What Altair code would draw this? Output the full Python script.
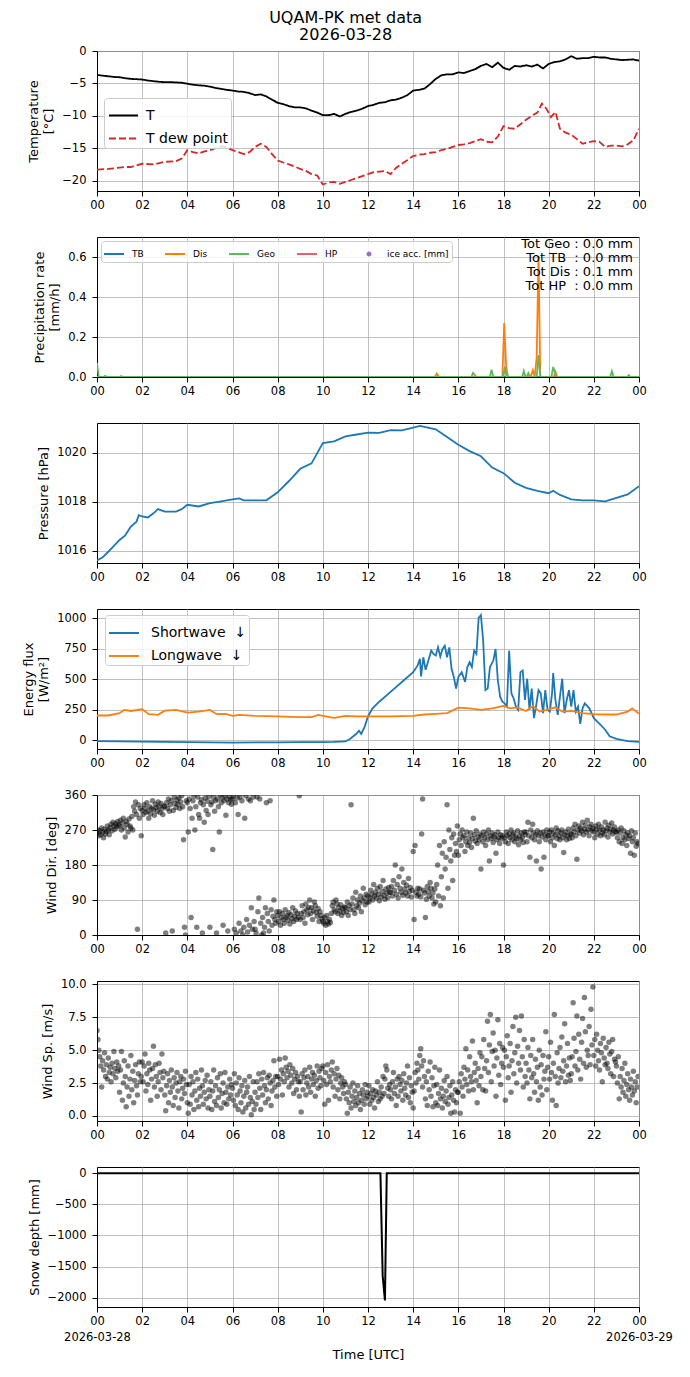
import altair as alt
import pandas as pd

FONT = "DejaVu Sans"
W, H = 542, 140
X_TICKS = list(range(0, 25, 2))
DATES = ["2026-03-28", "2026-03-29"]
TITLE = ["UQAM-PK met data", "2026-03-28"]

# ---------------- Temperature (every 15 min) ----------------
temp_T = [-3.7, -3.8, -3.9, -4.0, -4.05, -4.2, -4.3, -4.35, -4.4, -4.55, -4.65, -4.75,
          -4.8, -4.8, -4.85, -4.9, -5.05, -5.2, -5.3, -5.35, -5.5, -5.7, -5.85, -6.0,
          -6.1, -6.25, -6.3, -6.5, -6.8, -6.7, -7.0, -7.5, -8.0, -8.2, -8.5, -8.7,
          -8.7, -8.85, -9.2, -9.5, -9.9, -9.9, -9.7, -10.1, -9.7, -9.4, -9.2, -8.9,
          -8.5, -8.3, -8.0, -7.9, -7.6, -7.5, -7.2, -6.8, -6.1, -6.0, -5.8, -5.1,
          -4.3, -3.75, -3.6, -3.6, -3.3, -3.4, -3.1, -2.8, -2.3, -2.0, -2.5, -1.8,
          -2.6, -2.9, -2.3, -2.4, -2.2, -2.4, -2.1, -2.7, -2.0, -1.7, -1.6, -1.3,
          -0.8, -1.2, -1.1, -1.1, -0.9, -1.0, -1.0, -1.2, -1.3, -1.4, -1.35, -1.3, -1.5]
temp_h = [i * 0.25 for i in range(len(temp_T))]

dew_h = [0, 0.5, 1.0, 1.25, 1.5, 2.0, 2.5, 3.0, 3.5, 3.75, 4.0, 4.25, 4.5, 4.75, 5.0, 5.25,
         5.5, 5.75, 6.0, 6.25, 6.5, 6.75, 7.0, 7.25, 7.5, 7.75, 8.0, 8.25, 8.5, 8.75, 9.0,
         9.25, 9.5, 9.75, 10.0, 10.25, 10.5, 10.75, 11.0, 11.25, 11.5, 11.75, 12.0, 12.25,
         12.5, 12.75, 13.0, 13.25, 13.5, 13.75, 14.0, 14.25, 14.5, 14.75, 15.0, 15.25, 15.5,
         15.75, 16.0, 16.25, 16.5, 16.75, 17.0, 17.25, 17.5, 17.75, 18.0, 18.25, 18.5, 18.75,
         19.0, 19.25, 19.5, 19.7, 19.9, 20.1, 20.3, 20.5, 20.75, 21.0, 21.25, 21.5, 21.75,
         22.0, 22.25, 22.5, 22.75, 23.0, 23.25, 23.5, 23.75, 24.0]
dew_Td = [-18.3, -18.2, -18.0, -17.9, -17.9, -17.4, -17.5, -17.1, -17.0, -16.6, -15.3, -15.6,
          -15.8, -15.5, -15.3, -15.0, -14.7, -14.9, -15.3, -15.6, -15.9, -15.6, -14.8, -14.3,
          -14.8, -15.9, -16.9, -17.2, -17.5, -17.8, -18.2, -18.5, -19.0, -19.2, -20.6, -20.3,
          -20.2, -20.5, -20.2, -19.9, -19.6, -19.3, -19.0, -18.7, -18.6, -18.5, -19.0, -18.0,
          -17.4, -16.8, -16.2, -16.0, -15.9, -15.7, -15.6, -15.3, -15.1, -14.8, -14.5, -14.4,
          -14.2, -13.9, -13.6, -14.0, -14.1, -13.2, -11.6, -11.9, -12.0, -11.3, -10.6, -10.0,
          -9.5, -8.1, -8.9, -10.2, -9.4, -12.0, -12.6, -12.9, -13.6, -14.3, -14.1, -13.9,
          -14.0, -14.8, -14.6, -14.6, -14.7, -14.4, -13.8, -12.0]
temp_names = ["T", "T dew point"]
temp_colors = ["black", "#d62728"]

# ---------------- Precipitation ----------------
prec_names = ["TB", "Dis", "Geo", "HP", "ice acc. [mm]"]
prec_colors = ["#1f77b4", "#ff7f0e", "#5cb85c", "#e0646c", "#9a6fc4"]
tb_h = [0, 24]
tb_v = [0.0, 0.0]
dis_h = [0, 14.95, 15.05, 15.13, 17.95, 18.03, 18.12, 18.2, 19.2, 19.3, 19.38, 19.47,
         19.55, 19.63, 20.22, 20.3, 20.38, 24]
dis_v = [0.0, 0.0, 0.017, 0.0, 0.0, 0.27, 0.05, 0.0, 0.0, 0.034, 0.0, 0.1,
         0.605, 0.0, 0.0, 0.026, 0.0, 0.0]
geo_h = [0, 0.08, 0.3, 0.36, 0.44, 1.0, 1.07, 1.15, 16.58, 16.65, 16.73, 16.8, 17.4, 17.47,
         17.55, 17.98, 18.06, 18.14, 18.83, 18.9, 18.98, 19.03, 19.1, 19.18, 19.47, 19.55,
         19.63, 20.12, 20.2, 20.28, 20.36, 22.72, 22.8, 22.88, 23.47, 23.55, 23.63, 24]
geo_v = [0.07, 0.0, 0.0, 0.006, 0.0, 0.0, 0.005, 0.0, 0.0, 0.02, 0.01, 0.0, 0.0, 0.037,
         0.0, 0.0, 0.05, 0.0, 0.0, 0.03, 0.0, 0.0, 0.02, 0.0, 0.0, 0.11,
         0.0, 0.0, 0.05, 0.02, 0.0, 0.0, 0.03, 0.0, 0.0, 0.01, 0.0, 0.0]
prec_totals = ["Tot Geo : 0.0 mm", "Tot TB\u00a0\u00a0: 0.0 mm",
               "Tot Dis : 0.1 mm", "Tot HP\u00a0\u00a0: 0.0 mm"]

# ---------------- Pressure ----------------
p_h = [0, 0.25, 0.5, 0.75, 1.0, 1.25, 1.5, 1.75, 1.85, 2.0, 2.25, 2.5, 2.7, 3.0, 3.5, 3.75,
       4.0, 4.5, 5.0, 5.5, 6.0, 6.3, 6.5, 7.0, 7.5, 8.0, 8.5, 9.0, 9.5, 10.0, 10.5, 11.0,
       11.5, 12.0, 12.5, 13.0, 13.5, 14.0, 14.3, 14.5, 15.0, 15.5, 16.0, 16.5, 17.0, 17.5,
       18.0, 18.5, 19.0, 19.5, 20.0, 20.2, 20.5, 21.0, 21.5, 22.0, 22.5, 23.0, 23.5, 24.0]
p_v = [1015.6, 1015.73, 1015.96, 1016.2, 1016.44, 1016.63, 1016.99, 1017.19, 1017.45, 1017.4,
       1017.36, 1017.53, 1017.7, 1017.6, 1017.6, 1017.7, 1017.88, 1017.81, 1017.95, 1018.02,
       1018.1, 1018.14, 1018.06, 1018.06, 1018.06, 1018.39, 1018.85, 1019.35, 1019.57, 1020.4,
       1020.47, 1020.67, 1020.75, 1020.83, 1020.82, 1020.93, 1020.92, 1021.03, 1021.1, 1021.06,
       1020.96, 1020.65, 1020.33, 1020.07, 1019.86, 1019.4, 1019.17, 1018.78, 1018.57, 1018.45,
       1018.35, 1018.45, 1018.28, 1018.1, 1018.06, 1018.06, 1018.02, 1018.16, 1018.3, 1018.64]

# ---------------- Radiation ----------------
sw_h = [0, 1, 2, 3, 4, 5, 6, 7, 8, 9, 10, 10.5, 11.0, 11.2, 11.35, 11.5, 11.6, 11.7, 11.85,
        12.0, 12.2, 12.5, 13.0, 13.5, 14.0, 14.2, 14.3, 14.35, 14.45, 14.55, 14.65, 14.8,
        14.9, 15.0, 15.1, 15.2, 15.3, 15.4, 15.5, 15.6, 15.7, 15.8, 15.9, 16.0, 16.15, 16.3,
        16.4, 16.5, 16.6, 16.7, 16.8, 16.9, 17.0, 17.1, 17.2, 17.3, 17.4, 17.55, 17.65, 17.75,
        17.85, 17.95, 18.05, 18.15, 18.25, 18.35, 18.45, 18.55, 18.65, 18.75, 18.85, 18.95,
        19.05, 19.15, 19.25, 19.35, 19.45, 19.55, 19.65, 19.75, 19.85, 19.95, 20.05, 20.15,
        20.2, 20.3, 20.4, 20.5, 20.6, 20.7, 20.8, 20.9, 21.0, 21.1, 21.2, 21.3, 21.4, 21.5,
        21.6, 21.8, 22.0, 22.3, 22.5, 22.7, 23.0, 23.5, 24]
sw_v = [-8, -10, -12, -14, -16, -18, -19, -18, -17, -16, -15, -14, -10, 10, 32, 55, 78, 52,
        110, 195, 262, 316, 397, 478, 559, 614, 668, 524, 681, 578, 640, 735, 708, 695, 762,
        686, 749, 776, 681, 762, 586, 519, 424, 519, 559, 478, 600, 640, 600, 735, 708, 1005,
        1027, 816, 411, 424, 600, 654, 749, 492, 357, 316, 303, 276, 735, 384, 343, 276, 249,
        559, 573, 330, 505, 249, 424, 181, 289, 411, 384, 222, 411, 249, 235, 384, 551, 330,
        208, 357, 505, 222, 330, 411, 276, 411, 235, 276, 135, 262, 303, 262, 181, 127, 86,
        32, 11, -8, -14]
lw_h = [0, 0.5, 1.0, 1.2, 1.5, 2.0, 2.3, 2.7, 3.0, 3.5, 4.0, 4.5, 5.0, 5.3, 5.7, 6.0, 6.3,
        7.0, 8.0, 9.0, 9.5, 9.8, 10.0, 10.5, 11.0, 11.5, 12.0, 13.0, 14.0, 14.5, 15.0, 15.5,
        16.0, 16.5, 17.0, 17.5, 18.0, 18.3, 18.6, 19.0, 19.3, 19.6, 20.0, 20.3, 20.6, 21.0,
        21.5, 22.0, 22.5, 23.0, 23.5, 23.7, 24]
lw_v = [203, 203, 222, 249, 240, 254, 214, 208, 243, 249, 227, 235, 249, 214, 216, 200, 208,
        200, 195, 189, 189, 208, 200, 184, 200, 195, 195, 195, 200, 211, 216, 222, 268, 262,
        249, 262, 281, 262, 270, 240, 281, 235, 254, 270, 235, 240, 222, 214, 211, 211, 235,
        262, 216]
rad_names = ["Shortwave\u00a0\u00a0\u2193", "Longwave\u00a0\u00a0\u2193"]
rad_colors = ["#1f77b4", "#ff7f0e"]

# ---------------- Wind (one value every 2.5 min) ----------------
wdir = [
    262, 270, 255, 268, 258, 275, 264, 250, 272, 260, 266, 280, 270, 258, 276, 285, 268, 290, 280, 272, 286, 278, 292, 283,
    280, 295, 270, 288, 300, 276, 252, 292, 285, 265, 298, 280, 275, 305, 270, 330, 318, 342, 310, 15, 335, 300, 325, 255,
    320, 310, 335, 326, 315, 340, 318, 300, 330, 312, 325, 345, 322, 308, 336, 328, 318, 342, 330, 315, 338, 324, 310, 332,
    330, 5, 340, 325, 350, 318, 335, 345, 10, 320, 355, 338, 328, 348, 336, 352, 325, 342, 358, 330, 245, 20, 0, 345,
    340, 265, 350, 325, 45, 300, 345, 358, 270, 330, 20, 355, 310, 300, 340, 348, 5, 335, 290, 352, 320, 344, 310, 356,
    20, 335, 342, 220, 355, 318, 345, 5, 350, 330, 265, 360, 340, 352, 25, 345, 358, 308, 350, 10, 340, 355, 348, 336,
    350, 358, 15, 340, 5, 352, 310, 30, 355, 10, 345, 0, 20, 300, 358, 40, 8, 350, 25, 345, 70, 15, 355, 35,
    15, 5, 355, 60, 95, 350, 30, 0, 45, 5, 20, 70, 340, 55, 35, 10, 345, 65, 25, 48, 90, 40, 30, 60,
    50, 35, 60, 25, 45, 55, 40, 30, 65, 45, 50, 38, 58, 28, 52, 42, 70, 35, 48, 62, 40, 55, 45, 358,
    40, 55, 75, 45, 60, 30, 80, 65, 52, 70, 90, 55, 70, 40, 62, 85, 75, 58, 48, 68, 35, 60, 50, 42,
    35, 30, 45, 25, 50, 35, 28, 40, 32, 55, 75, 85, 65, 60, 90, 80, 55, 70, 62, 78, 50, 68, 58, 72,
    70, 60, 85, 50, 75, 65, 335, 80, 95, 65, 55, 110, 75, 90, 70, 82, 100, 60, 88, 120, 95, 78, 105, 85,
    100, 85, 95, 115, 105, 90, 130, 100, 110, 95, 120, 105, 88, 125, 98, 112, 140, 102, 92, 118, 108, 96, 122, 110,
    110, 125, 100, 140, 115, 180, 105, 130, 95, 150, 120, 110, 170, 102, 135, 118, 108, 128, 100, 145, 112, 122, 98, 115,
    215, 40, 230, 110, 100, 120, 105, 118, 98, 260, 350, 115, 108, 45, 92, 125, 112, 100, 135, 120, 95, 108, 80, 118,
    85, 130, 180, 100, 230, 75, 150, 210, 95, 240, 170, 200, 335, 120, 270, 220, 190, 250, 140, 260, 205, 235, 215, 280,
    205, 245, 260, 230, 270, 250, 255, 215, 240, 265, 230, 250, 238, 262, 225, 248, 300, 258, 242, 268, 235, 252, 245, 260,
    170, 255, 240, 265, 250, 230, 260, 245, 270, 190, 255, 248, 262, 238, 252, 258, 210, 245, 265, 250, 235, 258, 248, 255,
    180, 250, 240, 265, 255, 235, 260, 250, 270, 245, 258, 262, 240, 252, 248, 268, 232, 255, 245, 262, 250, 238, 265, 258,
    265, 240, 290, 255, 200, 270, 250, 285, 262, 245, 258, 190, 268, 255, 240, 262, 170, 252, 265, 200, 258, 245, 270, 255,
    255, 265, 240, 270, 250, 262, 230, 258, 275, 248, 268, 255, 245, 262, 270, 250, 212, 258, 265, 245, 255, 272, 248, 260,
    260, 250, 275, 265, 285, 255, 195, 270, 280, 262, 275, 268, 290, 258, 272, 282, 265, 295, 270, 255, 278, 285, 268, 274,
    265, 250, 280, 272, 260, 285, 270, 255, 278, 262, 270, 258, 290, 268, 275, 252, 282, 265, 272, 288, 260, 270, 278, 265,
    265, 250, 270, 240, 262, 275, 235, 250, 268, 245, 258, 230, 262, 248, 255, 210, 268, 240, 250, 205, 262, 228, 240, 235,
]
wspd = [
    6.5, 5.8, 5.0, 4.5, 3.8, 2.2, 4.2, 3.5, 4.8, 3.0, 3.9, 2.8, 4.4, 3.3, 3.7, 2.6, 4.0, 3.2, 4.9, 3.6, 2.9, 4.1, 3.4, 3.8,
    1.8, 3.5, 4.9, 1.2, 2.5, 4.2, 3.0, 0.7, 2.2, 3.8, 1.5, 2.8, 4.6, 2.0, 3.4, 1.0, 2.7, 3.9, 2.3, 1.6, 3.2, 4.1, 2.6, 3.0,
    4.1, 2.6, 3.8, 4.7, 1.9, 3.2, 2.4, 4.0, 3.5, 1.2, 2.8, 3.6, 5.3, 2.2, 3.9, 3.0, 1.5, 2.6, 4.0, 3.3, 2.0, 4.7, 2.9, 3.4,
    1.6, 0.4, 2.3, 3.2, 1.0, 2.7, 1.8, 3.5, 2.2, 0.8, 2.9, 1.4, 2.5, 3.3, 1.9, 0.6, 2.6, 3.0, 1.3, 2.1, 2.8, 1.7, 3.4, 2.4,
    1.0, 0.2, 2.4, 0.9, 3.0, 1.6, 2.6, 0.5, 1.9, 3.3, 1.2, 2.8, 0.7, 2.1, 1.5, 3.5, 2.3, 0.9, 1.8, 2.7, 1.3, 3.1, 0.6, 2.0,
    1.5, 2.6, 0.5, 1.9, 3.5, 1.1, 2.3, 0.8, 2.9, 1.4, 2.0, 3.2, 0.6, 1.7, 2.5, 1.0, 3.3, 1.8, 0.9, 2.2, 1.3, 2.8, 1.6, 2.4,
    2.1, 1.2, 3.2, 0.8, 2.5, 1.6, 0.5, 2.9, 1.9, 1.0, 2.3, 0.3, 1.5, 2.7, 0.6, 1.8, 2.2, 0.9, 3.0, 1.4, 0.1, 1.1, 2.6, 0.5,
    1.8, 0.9, 2.6, 1.4, 3.2, 2.1, 0.5, 2.8, 1.6, 3.3, 2.3, 1.0, 2.0, 2.9, 1.3, 3.1, 2.5, 0.8, 1.9, 2.7, 4.2, 2.2, 3.0, 1.5,
    3.0, 2.4, 4.3, 2.8, 3.5, 1.6, 3.2, 2.6, 4.4, 3.7, 2.9, 3.4, 2.2, 3.9, 3.1, 2.5, 3.6, 1.7, 2.8, 3.3, 2.0, 3.0, 2.6, 1.5,
    2.6, 0.3, 3.2, 2.0, 2.9, 3.5, 1.6, 2.5, 3.0, 2.2, 3.7, 1.8, 2.8, 3.3, 2.4, 3.1, 1.5, 2.7, 3.8, 2.1, 3.4, 2.9, 2.3, 3.6,
    3.8, 2.7, 0.9, 3.3, 2.4, 3.9, 1.2, 3.0, 2.6, 3.5, 4.1, 2.2, 3.2, 1.5, 2.8, 3.6, 2.0, 3.1, 1.3, 2.5, 2.9, 2.2, 1.7, 2.6,
    2.4, 1.3, 0.2, 1.8, 1.0, 2.2, 0.6, 1.5, 2.5, 1.1, 1.9, 0.8, 1.4, 2.3, 1.0, 1.7, 0.5, 1.2, 2.0, 1.6, 0.9, 2.4, 1.3, 1.8,
    1.5, 2.3, 0.9, 1.7, 1.2, 2.0, 1.4, 0.6, 1.9, 1.6, 2.6, 1.1, 1.8, 1.3, 2.2, 1.5, 3.0, 1.7, 2.8, 3.8, 3.5, 2.1, 1.5, 2.4,
    2.0, 1.3, 2.6, 3.3, 1.7, 2.2, 0.8, 2.8, 1.5, 3.0, 2.4, 1.9, 2.7, 1.2, 3.2, 2.1, 1.6, 2.5, 3.8, 1.4, 2.9, 1.0, 2.3, 1.8,
    0.6, 1.9, 3.3, 2.5, 4.0, 3.5, 2.8, 4.6, 5.1, 3.8, 2.2, 4.2, 3.0, 1.3, 2.6, 0.8, 3.4, 2.0, 4.1, 1.5, 2.9, 0.7, 2.3, 3.7,
    1.0, 2.4, 0.8, 1.7, 3.5, 1.3, 2.1, 0.6, 1.5, 2.7, 1.1, 1.9, 3.0, 0.9, 1.4, 2.3, 0.2, 1.6, 2.6, 1.2, 0.3, 2.0, 1.0, 1.8,
    1.8, 2.6, 0.2, 3.2, 2.2, 1.5, 3.7, 2.8, 5.1, 2.4, 3.5, 1.9, 4.5, 3.0, 2.6, 5.7, 2.0, 3.3, 4.0, 2.7, 1.0, 3.6, 2.3, 4.8,
    3.0, 4.5, 2.0, 5.8, 3.6, 1.9, 4.2, 7.2, 3.3, 5.4, 7.7, 2.6, 4.9, 6.3, 3.8, 5.0, 1.5, 4.4, 7.3, 3.1, 5.5, 2.4, 4.0, 5.2,
    3.7, 5.0, 1.2, 4.5, 6.1, 2.9, 3.8, 5.5, 1.8, 4.2, 6.8, 3.2, 4.8, 7.5, 2.5, 5.3, 4.0, 6.5, 3.5, 7.6, 4.5, 2.2, 5.8, 3.0,
    4.0, 2.5, 5.2, 3.5, 1.3, 4.6, 2.9, 5.8, 3.2, 1.8, 4.3, 2.6, 3.7, 1.2, 5.0, 2.2, 3.9, 1.6, 4.6, 2.8, 3.4, 6.4, 2.0, 3.7,
    4.5, 2.8, 5.6, 3.3, 1.2, 4.0, 7.7, 3.0, 0.8, 4.8, 2.5, 3.6, 5.2, 2.9, 6.0, 3.4, 4.2, 7.0, 2.6, 3.8, 5.5, 3.1, 4.4, 2.7,
    3.2, 4.5, 8.6, 5.9, 3.8, 4.9, 7.6, 3.5, 6.2, 4.3, 2.8, 5.6, 7.4, 4.0, 9.0, 6.4, 3.7, 5.0, 4.6, 6.8, 3.9, 8.1, 5.4, 9.8,
    4.6, 5.8, 3.8, 6.2, 5.0, 4.2, 3.5, 5.5, 4.8, 2.6, 5.9, 4.4, 3.9, 5.2, 4.0, 3.6, 5.6, 4.7, 3.2, 4.9, 5.8, 3.0, 4.3, 4.1,
    3.8, 2.5, 4.5, 1.3, 3.0, 2.2, 3.6, 1.8, 2.7, 4.0, 1.5, 2.4, 3.2, 2.0, 1.2, 2.8, 2.2, 1.6, 3.4, 1.9, 2.6, 1.0, 2.2, 3.0,
]

# ---------------- Snow depth ----------------
snow_h = [0, 12.55, 12.65, 12.75, 12.83, 24]
snow_v = [0, 0, -1650, -2046, 0, 0]


def frame(h, v, name=None):
    n = min(len(h), len(v))
    d = pd.DataFrame({"h": h[:n], "v": v[:n]})
    if name is not None:
        d["series"] = name
    return d


def xenc(bottom=False):
    two = "(datum.value % 24 < 10 ? '0' : '') + (datum.value % 24)"
    if bottom:
        expr = ("[" + two + ", datum.value == 0 ? '" + DATES[0] + "' : (datum.value == 24 ? '"
                + DATES[1] + "' : '')]")
        ax = alt.Axis(values=X_TICKS, labelExpr=expr, title="Time [UTC]", labelLineHeight=16,
                      titlePadding=6, labelOverlap=False, labelFlush=False)
    else:
        ax = alt.Axis(values=X_TICKS, labelExpr=two, title=None, labelOverlap=False, labelFlush=False)
    return alt.X("h:Q", scale=alt.Scale(domain=[0, 24], nice=False, zero=False), axis=ax)


def yenc(domain, values, title, fmt="d"):
    return alt.Y("v:Q", scale=alt.Scale(domain=domain, nice=False, zero=False),
                 axis=alt.Axis(values=values, title=title, format=fmt, labelOverlap=False))


BOX = dict(fillColor="rgba(255,255,255,0.8)", strokeColor="#cccccc", cornerRadius=3)

# Panel 1: temperature
temp_df = pd.concat([frame(temp_h, temp_T, "T"), frame(dew_h, dew_Td, "T dew point")])
tleg = alt.Legend(title=None, orient="none", legendX=7, legendY=47, symbolType="stroke",
                  symbolSize=841, symbolStrokeWidth=2, labelFontSize=14, labelOffset=7,
                  symbolOffset=2, rowPadding=-1, padding=2, **BOX)
p1 = alt.Chart(temp_df).mark_line(strokeWidth=1.8, clip=True).encode(
    x=xenc(),
    y=yenc([-21.6, 0], [-20, -15, -10, -5, 0], ["Temperature", "[°C]"]),
    color=alt.Color("series:N", scale=alt.Scale(domain=temp_names, range=temp_colors), legend=tleg),
    strokeDash=alt.StrokeDash("series:N", scale=alt.Scale(domain=temp_names, range=[[1, 0], [7, 3]]),
                              legend=tleg),
).properties(width=W, height=H)

# Panel 2: precipitation
prec_df = pd.concat([frame(tb_h, tb_v, "TB"), frame(dis_h, dis_v, "Dis"), frame(geo_h, geo_v, "Geo")])
LINE_PATH = "M-1,-0.1L1,-0.1L1,0.1L-1,0.1Z"
DOT_PATH = "M-0.25,0A0.25,0.25,0,1,0,0.25,0A0.25,0.25,0,1,0,-0.25,0Z"
pleg = alt.Legend(title=None, orient="none", legendX=4, legendY=4, direction="horizontal",
                  symbolSize=400, symbolStrokeWidth=0, labelFontSize=9, labelOffset=8,
                  columnPadding=21, padding=3, **BOX)
prec_lines = alt.Chart(prec_df).mark_line(strokeWidth=1.8, clip=True).encode(
    x=xenc(),
    y=yenc([0, 0.70], [0, 0.2, 0.4, 0.6], ["Precipitation rate", "[mm/h]"], ".1f"),
    stroke=alt.Stroke("series:N", scale=alt.Scale(domain=prec_names[:4], range=prec_colors[:4]),
                      legend=None),
)
legend_df = pd.DataFrame({"series": prec_names, "h": [0.0] * 5, "v": [-1.0] * 5})
prec_keys = alt.Chart(legend_df).mark_point(filled=True, opacity=1, clip=True).encode(
    x=xenc(), y="v:Q",
    fill=alt.Fill("series:N", scale=alt.Scale(domain=prec_names, range=prec_colors), legend=pleg),
    shape=alt.Shape("series:N", scale=alt.Scale(domain=prec_names, range=[LINE_PATH] * 4 + [DOT_PATH]),
                    legend=pleg),
)
prec_text = alt.Chart(pd.DataFrame({"k": [0]})).mark_text(
    text=prec_totals, align="right", baseline="top", fontSize=13, lineHeight=14, font=FONT
).encode(x=alt.value(W - 6), y=alt.value(1))
p2 = alt.layer(prec_lines, prec_keys, prec_text).properties(width=W, height=H)

# Panel 3: pressure
p3 = alt.Chart(frame(p_h, p_v)).mark_line(strokeWidth=1.8, color="#1f77b4", clip=True).encode(
    x=xenc(), y=yenc([1015.5, 1021.22], [1016, 1018, 1020], "Pressure [hPa]")
).properties(width=W, height=H)

# Panel 4: radiation
rad_df = pd.concat([frame(sw_h, sw_v, rad_names[0]), frame(lw_h, lw_v, rad_names[1])])
rleg = alt.Legend(title=None, orient="none", legendX=8, legendY=6, symbolType="stroke",
                  symbolSize=900, symbolStrokeWidth=2, labelFontSize=14, labelOffset=11,
                  symbolOffset=1, rowPadding=-2, padding=2, **BOX)
p4 = alt.Chart(rad_df).mark_line(strokeWidth=1.8, clip=True).encode(
    x=xenc(),
    y=yenc([-72, 1077], [0, 250, 500, 750, 1000], ["Energy flux", "[W/m\u00b2]"]),
    color=alt.Color("series:N", scale=alt.Scale(domain=rad_names, range=rad_colors), legend=rleg),
).properties(width=W, height=H)

# Panel 5/6: wind
wind_h = [i / 24 for i in range(len(wdir))]
p5 = alt.Chart(frame(wind_h, wdir)).mark_circle(size=30, opacity=0.5, color="black", clip=True).encode(
    x=xenc(), y=yenc([0, 360], [0, 90, 180, 270, 360], "Wind Dir. [deg]")
).properties(width=W, height=H)
wsp_h = [i / 24 for i in range(len(wspd))]
p6 = alt.Chart(frame(wsp_h, wspd)).mark_circle(size=30, opacity=0.5, color="black", clip=True).encode(
    x=xenc(), y=yenc([-0.38, 10.25], [0, 2.5, 5, 7.5, 10], "Wind Sp. [m/s]", ".1f")
).properties(width=W, height=H)

# Panel 7: snow depth
p7 = alt.Chart(frame(snow_h, snow_v)).mark_line(strokeWidth=2, color="black", clip=True).encode(
    x=xenc(bottom=True),
    y=yenc([-2150, 100], [-2000, -1500, -1000, -500, 0], "Snow depth [mm]"),
).properties(width=W, height=H)

chart = alt.vconcat(p1, p2, p3, p4, p5, p6, p7, spacing=46, bounds="flush").resolve_scale(
    color="independent", strokeDash="independent", stroke="independent",
    fill="independent", shape="independent",
).resolve_legend(
    color="independent", strokeDash="independent", stroke="independent",
    fill="independent", shape="independent",
).properties(
    title=alt.TitleParams(TITLE, fontSize=16, fontWeight="normal", font=FONT, anchor="middle",
                          lineHeight=17, offset=2, color="black", dx=-2),
    padding={"left": 14, "top": 1, "right": 2, "bottom": 5},
).configure_axis(
    labelFont=FONT, titleFont=FONT, labelFontSize=11.5, titleFontSize=13, titleFontWeight="normal",
    labelColor="black", titleColor="black", domainColor="black", tickColor="black",
    gridColor="#b0b0b0", gridWidth=0.8, tickSize=5, labelPadding=3,
).configure_axisY(labelPadding=6, titlePadding=6).configure_view(
    stroke="black", strokeWidth=1
).configure_legend(labelFont=FONT, labelColor="black")

chart.save("out.html", embed_options={"renderer": "svg", "actions": False})
